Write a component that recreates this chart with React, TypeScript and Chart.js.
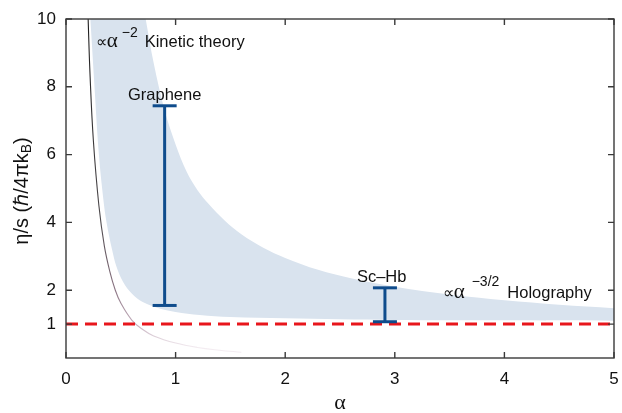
import { useEffect, useRef } from 'react';
import { Chart, registerables } from 'chart.js';

Chart.register(...registerables);

// ---- data ----
const X_TICKS = [0, 1, 2, 3, 4, 5];
const Y_TICKS = [1, 2, 4, 6, 8, 10];

// kinetic theory curve (∝ α^-2)
const KINETIC_ALPHA = [0.2, 0.22, 0.25, 0.3, 0.35, 0.4, 0.45, 0.5, 0.6, 0.7, 0.8, 1.0, 1.2, 1.4, 1.6];
const KINETIC_ETA = [10.2, 8.3, 6.4, 4.5, 3.3, 2.55, 2.0, 1.62, 1.12, 0.84, 0.65, 0.44, 0.31, 0.23, 0.17];

// shaded band: lower and upper edges
const BAND_LOWER_ALPHA = [0.215, 0.26, 0.3, 0.34, 0.37, 0.42, 0.46, 0.52, 0.6, 0.7, 0.86, 1.0, 1.22, 1.5, 2.0, 2.5, 3.0, 4.0, 5.0, 5.2];
const BAND_LOWER_ETA = [10.4, 8, 6, 4.7, 4, 3.2, 2.7, 2.25, 1.9, 1.65, 1.45, 1.36, 1.27, 1.21, 1.17, 1.14, 1.12, 1.11, 1.1, 1.1];
const BAND_UPPER_ALPHA = [0.71, 0.727, 0.8, 0.9, 1.0, 1.1, 1.2, 1.3, 1.45, 1.6, 1.8, 2.0, 2.3, 2.6, 3.0, 3.5, 4.0, 4.5, 5.0, 5.2];
const BAND_UPPER_ETA = [10.3, 10, 8.7, 7.3, 6.3, 5.5, 4.95, 4.55, 4.05, 3.65, 3.25, 2.95, 2.6, 2.35, 2.1, 1.87, 1.7, 1.57, 1.47, 1.44];

// KSS bound
const KSS_ALPHA = [0, 5];
const KSS_ETA = [1, 1];

// error bars
const BAR_NAMES = ['Graphene', 'Sc–Hb'];
const BAR_ALPHA = [0.9, 2.91];
const BAR_LOW = [1.55, 1.07];
const BAR_HIGH = [7.44, 2.07];

const SANS = '"Liberation Sans", Arial, sans-serif';
const SERIF = '"Liberation Serif", "Times New Roman", serif';
const BLUE = '#0f4c8c';
const RED = '#e8161c';
const BAND = '#d9e3ee';
const AXIS = '#3a3a3a';

type Run = { t: string; font: string; dx?: number; dy?: number };

function drawRuns(ctx: CanvasRenderingContext2D, x: number, y: number, runs: Run[]) {
  let cx = x;
  for (const r of runs) {
    cx += r.dx || 0;
    ctx.font = r.font;
    ctx.fillText(r.t, cx, y + (r.dy || 0));
    cx += ctx.measureText(r.t).width;
  }
}

const decorPlugin = {
  id: 'decor',
  afterDatasetsDraw(chart: any) {
    const { ctx, chartArea: a, scales } = chart;
    const xs = scales.x;
    const ys = scales.y;
    ctx.save();
    // frame
    ctx.strokeStyle = AXIS;
    ctx.lineWidth = 1.4;
    ctx.strokeRect(a.left, a.top, a.right - a.left, a.bottom - a.top);
    // inward ticks
    const tl = 6;
    ctx.beginPath();
    for (const v of X_TICKS) {
      const px = xs.getPixelForValue(v);
      ctx.moveTo(px, a.bottom);
      ctx.lineTo(px, a.bottom - tl);
      ctx.moveTo(px, a.top);
      ctx.lineTo(px, a.top + tl);
    }
    for (const v of Y_TICKS) {
      const py = ys.getPixelForValue(v);
      ctx.moveTo(a.left, py);
      ctx.lineTo(a.left + tl, py);
      ctx.moveTo(a.right, py);
      ctx.lineTo(a.right - tl, py);
    }
    ctx.stroke();

    // annotations
    ctx.fillStyle = '#111';
    ctx.textBaseline = 'alphabetic';
    ctx.textAlign = 'left';
    drawRuns(ctx, xs.getPixelForValue(0.271), ys.getPixelForValue(9.17), [
      { t: '∝', font: `16px ${SANS}` },
      { t: 'α', font: `21px ${SERIF}` },
      { t: '−2', font: `14px ${SANS}`, dx: 4, dy: -10 },
      { t: 'Kinetic theory', font: `16.5px ${SANS}`, dx: 7 },
    ]);
    drawRuns(ctx, xs.getPixelForValue(3.437), ys.getPixelForValue(1.757), [
      { t: '∝', font: `16px ${SANS}` },
      { t: 'α', font: `21px ${SERIF}` },
      { t: '−3/2', font: `14px ${SANS}`, dx: 7, dy: -12 },
      { t: 'Holography', font: `16.5px ${SANS}`, dx: 8 },
    ]);
    ctx.textAlign = 'center';
    ctx.font = `16.5px ${SANS}`;
    ctx.fillText(BAR_NAMES[0], xs.getPixelForValue(BAR_ALPHA[0]), ys.getPixelForValue(7.62));
    ctx.fillText(BAR_NAMES[1], xs.getPixelForValue(2.88), ys.getPixelForValue(2.24));

    // axis titles
    ctx.font = `22px ${SERIF}`;
    ctx.textBaseline = 'middle';
    ctx.fillText('α', (a.left + a.right) / 2, 403);

    ctx.translate(22, 191);
    ctx.rotate(-Math.PI / 2);
    ctx.textBaseline = 'middle';
    const main = `20px ${SANS}`;
    const sub = `14px ${SANS}`;
    ctx.font = main;
    const p1 = 'η/s (ℏ/4πk';
    const w1 = ctx.measureText(p1).width;
    ctx.font = sub;
    const wB = ctx.measureText('B').width;
    ctx.font = main;
    const w3 = ctx.measureText(')').width;
    const total = w1 + wB + w3;
    ctx.textAlign = 'left';
    drawRuns(ctx, -total / 2, 0, [
      { t: p1, font: main },
      { t: 'B', font: sub, dy: 5 },
      { t: ')', font: main },
    ]);
    ctx.restore();
  },
};

export default function App() {
  const ref = useRef<HTMLCanvasElement | null>(null);

  useEffect(() => {
    document.body.style.margin = '0';
    const canvas = ref.current;
    if (!canvas) return;

    const band = [
      ...BAND_LOWER_ALPHA.map((x, i) => ({ x, y: BAND_LOWER_ETA[i] })),
      ...BAND_UPPER_ALPHA.map((x, i) => ({ x, y: BAND_UPPER_ETA[i] })).reverse(),
    ];
    const kinetic = KINETIC_ALPHA.map((x, i) => ({ x, y: KINETIC_ETA[i] }));
    const kss = KSS_ALPHA.map((x, i) => ({ x, y: KSS_ETA[i] }));

    const barSets = BAR_ALPHA.map((x, i) => ({
      label: BAR_NAMES[i],
      data: [
        { x, y: BAR_LOW[i] },
        { x, y: BAR_HIGH[i] },
      ],
      showLine: true,
      borderColor: BLUE,
      borderWidth: 3,
      pointStyle: 'line' as const,
      pointRadius: 12,
      pointBorderWidth: 3,
      pointBorderColor: BLUE,
      pointBackgroundColor: BLUE,
      fill: false,
    }));

    const chart = new Chart(canvas, {
      type: 'scatter',
      data: {
        datasets: [
          ...barSets,
          {
            label: 'KSS',
            data: kss,
            showLine: true,
            borderColor: RED,
            borderWidth: 3,
            borderDash: [12, 7],
            pointRadius: 0,
            fill: false,
          },
          {
            label: 'Kinetic',
            data: kinetic,
            showLine: true,
            borderWidth: 1.1,
            tension: 0.4,
            pointRadius: 0,
            fill: false,
            borderColor: (c: any) => {
              const ch = c.chart;
              if (!ch.chartArea) return '#333';
              const y = ch.scales.y;
              const g = ch.ctx.createLinearGradient(0, y.getPixelForValue(10), 0, y.getPixelForValue(0));
              g.addColorStop(0, '#1e1e1e');
              g.addColorStop(0.6, '#4e4a4d');
              g.addColorStop(0.8, '#8c7584');
              g.addColorStop(0.9, '#c4afbd');
              g.addColorStop(0.97, '#f3ecf1');
              return g;
            },
          },
          {
            label: 'Band',
            data: band,
            showLine: true,
            borderWidth: 0,
            borderColor: 'rgba(0,0,0,0)',
            backgroundColor: BAND,
            tension: 0.35,
            pointRadius: 0,
            fill: 'shape',
          },
        ],
      },
      options: {
        animation: false,
        responsive: false,
        maintainAspectRatio: false,
        events: [],
        layout: { autoPadding: false, padding: { top: 19, right: 8, left: 0, bottom: 0 } },
        plugins: { legend: { display: false }, tooltip: { enabled: false } },
        scales: {
          x: {
            type: 'linear',
            min: 0,
            max: 5,
            grid: { display: false, drawTicks: false },
            border: { display: false },
            ticks: {
              stepSize: 1,
              padding: 11,
              color: '#111',
              font: { family: SANS, size: 17 },
            },
            afterBuildTicks: (s: any) => {
              s.ticks = X_TICKS.map((v) => ({ value: v }));
            },
            afterFit: (s: any) => {
              s.height = 55;
              s.paddingLeft = 0;
              s.paddingRight = 0;
            },
          },
          y: {
            type: 'linear',
            min: 0,
            max: 10,
            grid: { display: false, drawTicks: false },
            border: { display: false },
            ticks: {
              padding: 10,
              color: '#111',
              font: { family: SANS, size: 17 },
            },
            afterBuildTicks: (s: any) => {
              s.ticks = Y_TICKS.map((v) => ({ value: v }));
            },
            afterFit: (s: any) => {
              s.width = 66;
              s.paddingTop = 0;
              s.paddingBottom = 0;
            },
          },
        },
      },
      plugins: [decorPlugin],
    });

    return () => chart.destroy();
  }, []);

  return (
    <div style={{ position: 'fixed', left: 0, top: 0, width: 622, height: 413, background: '#fff' }}>
      <canvas ref={ref} width={622} height={413} style={{ width: 622, height: 413 }} />
    </div>
  );
}
